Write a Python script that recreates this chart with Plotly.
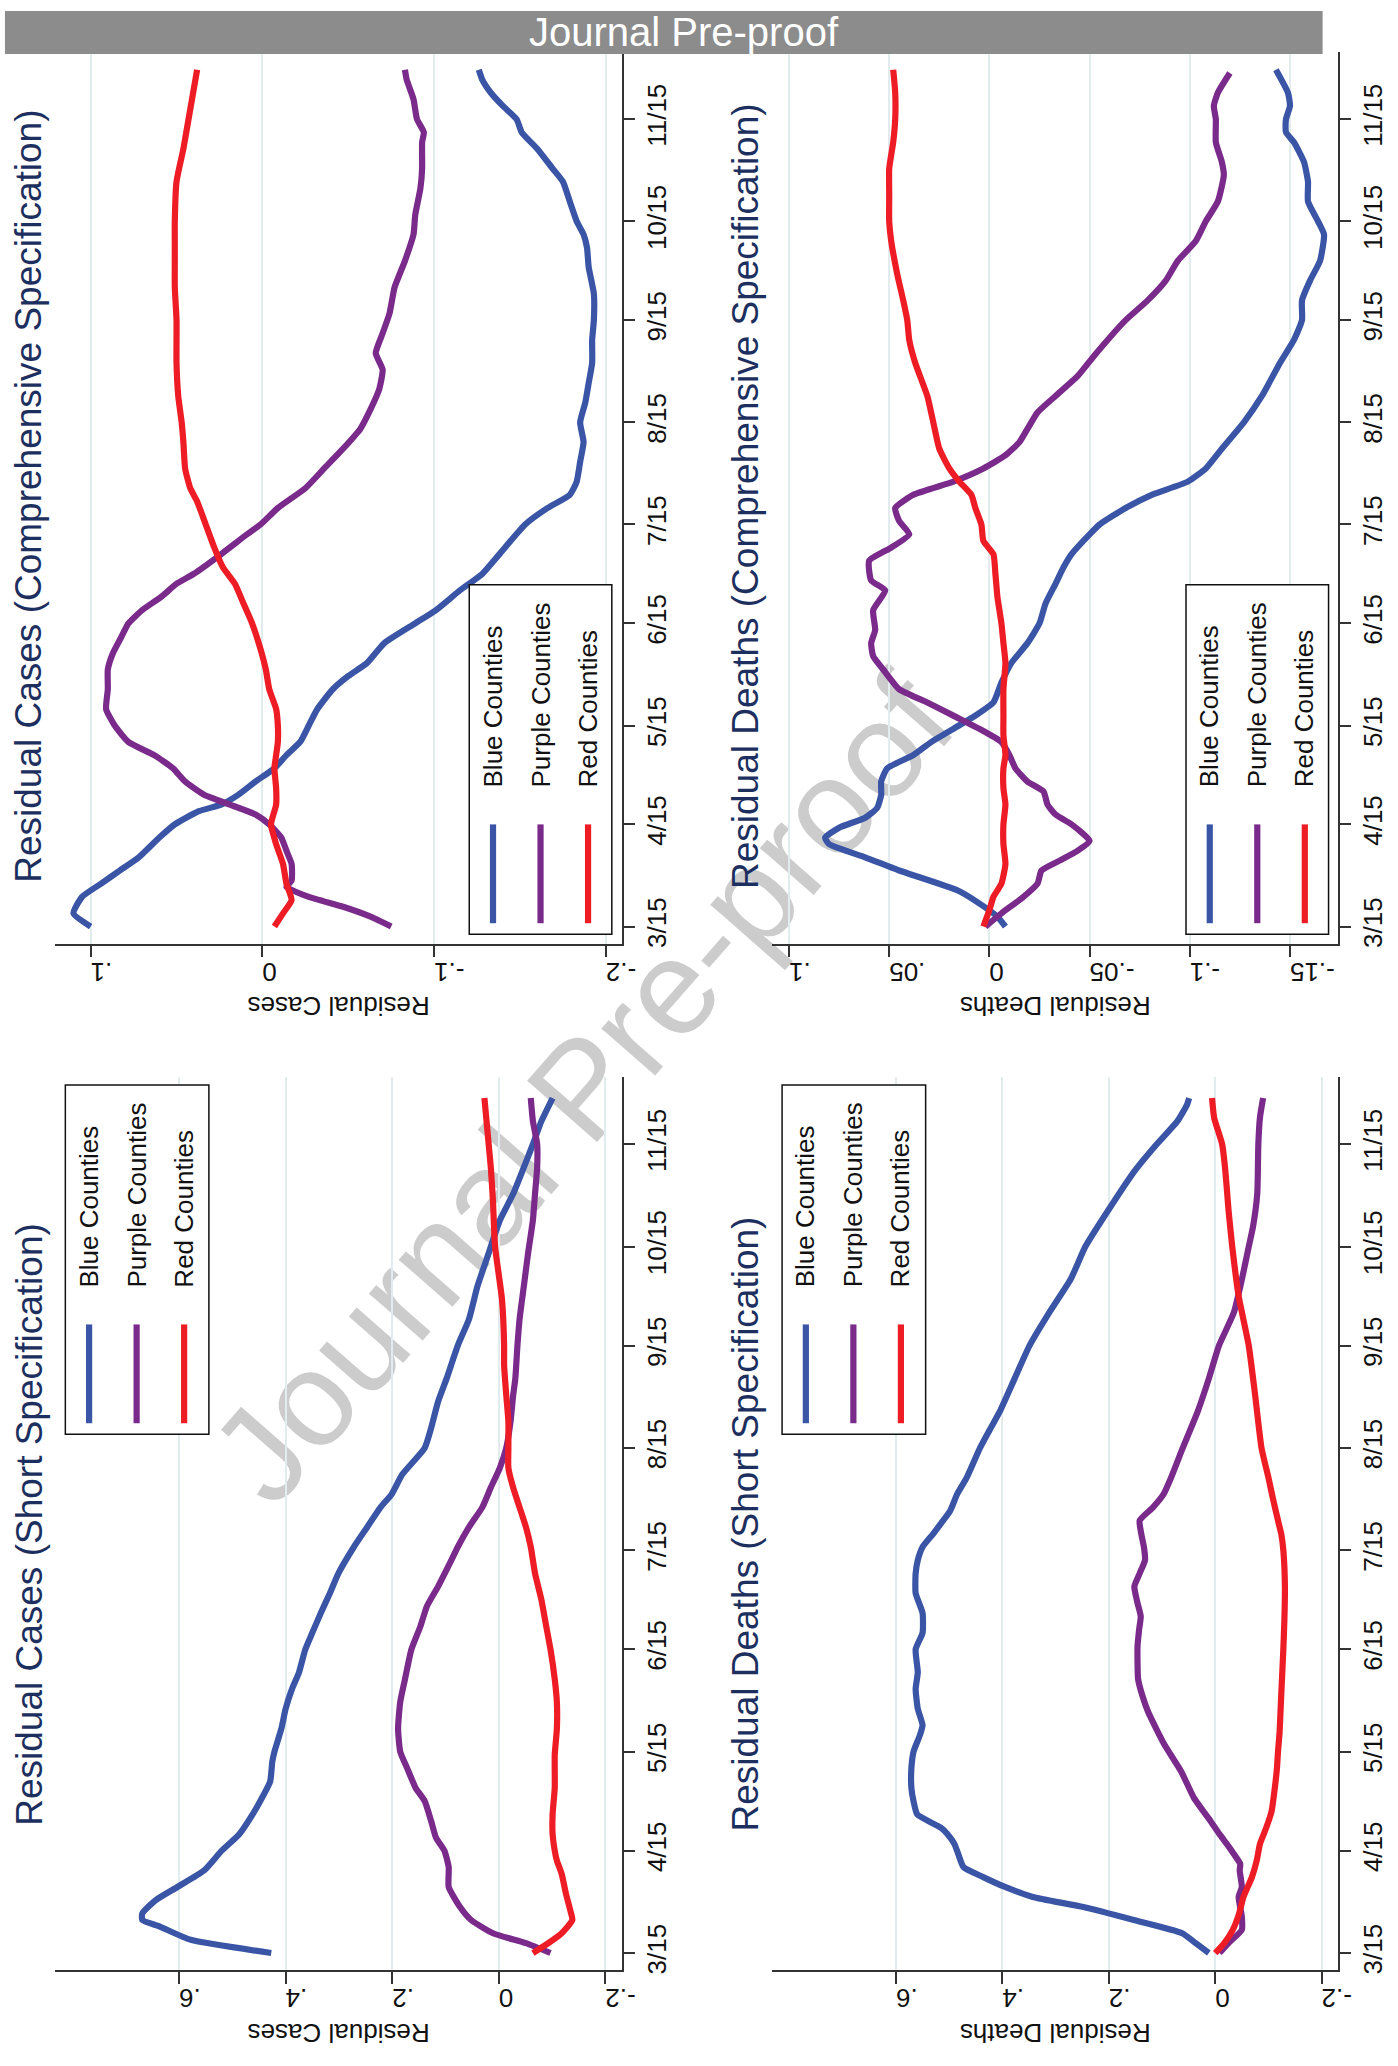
import plotly.graph_objects as go
import pandas as pd
import math

# ---------------- data (days after 2020-03-15, residual values) ----------------
BASE = pd.Timestamp("2020-03-15")

# Residual Cases (Comprehensive Specification)
cc_blue_days = [0,4,9,13,17,21,27,31,35,37,40,44,48,52,56,61,66,72,76,80,86,92,96,102,107,113,122,127,131,135,141,147,153,159,165,171,178,184,192,200,206,210,214,220,226,230,236,241,245,249,253,257,260]
cc_blue_vals = [.100,.110,.105,.094,.083,.072,.060,.051,.037,.024,.014,.004,-.007,-.014,-.022,-.027,-.032,-.041,-.050,-.061,-.071,-.089,-.101,-.115,-.128,-.138,-.153,-.166,-.179,-.183,-.185,-.187,-.185,-.188,-.190,-.192,-.192,-.193,-.193,-.190,-.189,-.187,-.183,-.179,-.175,-.169,-.160,-.151,-.148,-.140,-.133,-.128,-.126]
cc_purple_days = [0,3,6,9,12,14,19,23,27,31,34,37,40,44,48,52,56,61,66,72,78,83,88,92,96,100,104,107,113,119,122,127,133,139,145,151,157,163,169,174,180,186,194,202,210,216,224,230,238,241,245,251,257,260]
cc_purple_vals = [-.075,-.063,-.047,-.027,-.014,-.017,-.017,-.014,-.011,-.004,.004,.019,.034,.045,.052,.063,.078,.086,.091,.090,.090,.087,.082,.078,.070,.059,.050,.040,.024,.009,.001,-.009,-.025,-.036,-.047,-.057,-.063,-.068,-.070,-.066,-.070,-.074,-.077,-.083,-.088,-.089,-.092,-.093,-.093,-.094,-.090,-.088,-.084,-.083]
cc_red_days = [0,4,8,13,19,25,31,37,42,48,52,56,61,66,72,78,84,92,98,104,109,115,122,129,133,139,147,153,161,171,184,194,204,214,226,236,245,251,260]
cc_red_vals = [-.007,-.012,-.017,-.014,-.012,-.008,-.005,-.008,-.008,-.007,-.008,-.009,-.009,-.008,-.004,-.002,.001,.006,.011,.016,.023,.028,.033,.038,.042,.045,.046,.047,.049,.050,.050,.051,.051,.051,.050,.046,.043,.041,.038]

# Residual Deaths (Comprehensive Specification)
cd_blue_days = [0,3,7,11,17,21,25,27,30,33,36,40,44,48,52,56,60,64,68,74,80,86,92,98,104,109,113,119,122,127,131,135,139,145,153,161,171,178,184,190,196,202,210,214,220,226,232,238,241,245,249,253,260]
cd_blue_vals = [-.008,-.004,.005,.016,.045,.062,.080,.082,.075,.062,.056,.054,.054,.051,.038,.029,.018,.007,-.002,-.006,-.011,-.019,-.025,-.028,-.033,-.037,-.041,-.050,-.055,-.068,-.081,-.099,-.108,-.116,-.127,-.136,-.145,-.152,-.156,-.156,-.160,-.165,-.167,-.164,-.159,-.159,-.157,-.152,-.148,-.148,-.150,-.149,-.143]
cd_purple_days = [0,4,9,13,17,20,23,26,31,34,37,41,44,48,52,56,60,64,68,72,78,82,86,90,96,102,105,111,115,119,123,127,131,135,139,143,147,151,156,161,167,173,178,184,190,196,202,208,214,220,228,232,238,245,249,253,259]
cd_purple_vals = [.002,-.006,-.017,-.024,-.026,-.035,-.044,-.050,-.041,-.033,-.029,-.027,-.019,-.013,-.010,-.006,.005,.018,.031,.045,.053,.058,.059,.057,.058,.052,.059,.060,.049,.040,.045,.047,.038,.018,.003,-.008,-.015,-.019,-.024,-.033,-.044,-.052,-.059,-.068,-.079,-.088,-.094,-.103,-.108,-.114,-.117,-.116,-.113,-.113,-.112,-.114,-.120]
cd_red_days = [0,5,9,13,19,25,31,37,42,48,52,58,64,72,80,86,92,100,107,113,117,122,127,131,135,139,145,153,161,171,178,184,190,198,208,214,222,230,238,245,253,260]
cd_red_vals = [.003,.000,-.002,-.006,-.008,-.007,-.007,-.008,-.007,-.007,-.008,-.007,-.007,-.007,-.008,-.007,-.006,-.004,-.003,-.002,.003,.004,.007,.009,.015,.020,.025,.028,.031,.037,.040,.041,.043,.046,.049,.050,.050,.050,.048,.047,.047,.048]

# Residual Cases (Short Specification)
sc_blue_days = [0,4,8,10,12,16,20,25,31,36,42,48,52,58,61,68,74,80,85,92,97,103,109,115,123,129,135,139,145,153,159,167,174,184,192,202,212,214,222,230,238,245,252,259]
sc_blue_vals = [.427,.578,.636,.669,.669,.644,.603,.553,.520,.487,.462,.441,.429,.425,.421,.408,.400,.388,.375,.363,.350,.334,.317,.301,.272,.247,.222,.201,.181,.139,.127,.114,.098,.077,.056,.040,.019,.015,-.002,-.027,-.047,-.064,-.080,-.101]
sc_purple_days = [0,3,6,10,14,20,26,31,35,40,46,50,56,61,68,76,83,92,99,105,111,119,123,129,135,141,147,153,161,169,174,184,192,202,212,222,230,238,245,252,259]
sc_purple_vals = [-.097,-.051,.011,.052,.073,.094,.094,.102,.118,.127,.139,.156,.172,.185,.189,.185,.176,.164,.147,.135,.114,.089,.077,.056,.031,.015,-.002,-.014,-.022,-.027,-.031,-.035,-.039,-.047,-.055,-.064,-.068,-.072,-.072,-.064,-.060]
sc_red_days = [0,3,6,10,13,18,24,28,31,36,42,50,60,68,76,83,92,99,107,115,123,129,135,141,147,153,161,169,178,184,198,214,228,238,245,259]
sc_red_vals = [-.064,-.093,-.118,-.138,-.134,-.126,-.118,-.109,-.105,-.101,-.101,-.105,-.105,-.109,-.109,-.105,-.097,-.089,-.080,-.068,-.060,-.051,-.039,-.027,-.018,-.018,-.018,-.014,-.010,-.010,-.006,.007,.011,.015,.019,.027]

# Residual Deaths (Short Specification)
sd_blue_days = [0,3,6,10,14,17,20,23,26,30,33,36,38,42,46,50,56,61,66,69,74,80,85,92,97,103,109,115,119,123,127,130,134,139,144,153,159,164,174,184,194,204,214,225,237,245,252,257,259]
sd_blue_vals = [.012,.037,.062,.153,.250,.343,.395,.436,.473,.483,.490,.503,.516,.560,.567,.571,.571,.567,.555,.550,.559,.563,.559,.563,.550,.550,.563,.563,.559,.550,.530,.516,.498,.485,.467,.442,.422,.405,.377,.349,.312,.272,.244,.201,.151,.110,.071,.053,.049]
sd_purple_days = [0,3,7,11,17,20,25,27,30,33,36,40,47,55,63,68,73,78,83,88,93,98,102,106,111,115,119,123,127,131,135,139,144,153,164,174,184,194,204,214,220,230,245,253,259]
sd_purple_vals = [-.008,-.025,-.050,-.050,-.044,-.050,-.046,-.047,-.035,-.022,-.008,.009,.040,.064,.095,.111,.126,.137,.145,.146,.146,.143,.140,.146,.152,.142,.132,.134,.139,.142,.117,.097,.083,.061,.033,.012,-.007,-.035,-.050,-.063,-.071,-.079,-.081,-.084,-.090]
sd_red_days = [0,3,7,12,17,23,28,33,38,43,50,56,61,67,78,92,101,111,122,127,131,138,144,153,169,184,199,214,225,237,245,253,259]
sd_red_vals = [.000,-.017,-.033,-.045,-.053,-.069,-.078,-.084,-.096,-.106,-.112,-.116,-.118,-.121,-.124,-.128,-.130,-.131,-.128,-.124,-.118,-.108,-.100,-.087,-.075,-.063,-.044,-.032,-.025,-.019,-.013,.002,.006]

date_ticks = ["2020-03-15","2020-04-15","2020-05-15","2020-06-15","2020-07-15",
              "2020-08-15","2020-09-15","2020-10-15","2020-11-15"]
date_labels = ["3/15","4/15","5/15","6/15","7/15","8/15","9/15","10/15","11/15"]

cc_ticks = [0.1, 0, -0.1, -0.2];  cc_labels = [".1", "0", "-.1", "-.2"]
cd_ticks = [0.1, 0.05, 0, -0.05, -0.1, -0.15]; cd_labels = [".1", ".05", "0", "-.05", "-.1", "-.15"]
s_ticks = [0.6, 0.4, 0.2, 0, -0.2]; s_labels = [".6", ".4", ".2", "0", "-.2"]

series_names = ["Blue Counties", "Purple Counties", "Red Counties"]

# ---------------- styling ----------------
W, H = 1398, 2066
BLUE, PURPLE, RED = "#3a55a6", "#7a2a8a", "#ee1c25"
NAVY = "#1c2f5e"
GRID = "#e2ebee"
AXC = "#333333"
FONT = "Liberation Sans, Arial, sans-serif"
LW = 6.2

def px(x):
    return x / W

def py(y):
    return 1 - y / H

def to_dates(days):
    return [BASE + pd.Timedelta(days=d) for d in days]

date_range = [BASE + pd.Timedelta(days=-5.2), BASE + pd.Timedelta(days=265.4)]

panels = [
    dict(title="Residual Cases (Comprehensive Specification)", ytitle="Residual Cases",
         x0=56, x1=628.5, top=52, bot=945.5, vr=[0.1205, -0.2095],
         ticks=cc_ticks, labels=cc_labels, tx=28, ty=497,
         series=[(cc_blue_days, cc_blue_vals), (cc_purple_days, cc_purple_vals), (cc_red_days, cc_red_vals)],
         leg=(474, 586, 618, 936)),
    dict(title="Residual Deaths (Comprehensive Specification)", ytitle="Residual Deaths",
         x0=780, x1=1352, top=52, bot=945.5, vr=[0.1084, -0.1742],
         ticks=cd_ticks, labels=cd_labels, tx=752.5, ty=497,
         series=[(cd_blue_days, cd_blue_vals), (cd_purple_days, cd_purple_vals), (cd_red_days, cd_red_vals)],
         leg=(1198, 586, 1342, 936)),
    dict(title="Residual Cases (Short Specification)", ytitle="Residual Cases",
         x0=56, x1=628.5, top=1079, bot=1974, vr=[0.832, -0.2316],
         ticks=s_ticks, labels=s_labels, tx=29, ty=1527,
         series=[(sc_blue_days, sc_blue_vals), (sc_purple_days, sc_purple_vals), (sc_red_days, sc_red_vals)],
         leg=(66, 1087, 211, 1437)),
    dict(title="Residual Deaths (Short Specification)", ytitle="Residual Deaths",
         x0=780, x1=1352, top=1079, bot=1974, vr=[0.8326, -0.2316],
         ticks=s_ticks, labels=s_labels, tx=753, ty=1527,
         series=[(sd_blue_days, sd_blue_vals), (sd_purple_days, sd_purple_vals), (sd_red_days, sd_red_vals)],
         leg=(790, 1087, 935, 1437)),
]

colors = [BLUE, PURPLE, RED]

fig = go.Figure()
shapes = []
annotations = []

# watermark (below everything)
ang = math.radians(48.5)
cx, cy, L = 578, 1082, 300
shapes.append(dict(
    type="line", xref="paper", yref="paper", layer="below",
    x0=px(cx - L * math.cos(ang)), y0=py(cy + L * math.sin(ang)),
    x1=px(cx + L * math.cos(ang)), y1=py(cy - L * math.sin(ang)),
    line=dict(width=0, color="rgba(0,0,0,0)"),
    label=dict(text="Journal Pre-proof", textposition="middle", yanchor="middle",
               padding=0, font=dict(family=FONT, size=135, color="#cccccc")),
))

for i, p in enumerate(panels, start=1):
    xa = "x" if i == 1 else f"x{i}"
    ya = "y" if i == 1 else f"y{i}"
    for (days, vals), col, name in zip(p["series"], colors, series_names):
        fig.add_trace(go.Scatter(
            x=vals, y=to_dates(days), xaxis=xa, yaxis=ya, mode="lines", name=name,
            line=dict(color=col, width=LW, shape="spline", smoothing=0.5),
            showlegend=False, hoverinfo="skip"))
    xkey = "xaxis" if i == 1 else f"xaxis{i}"
    ykey = "yaxis" if i == 1 else f"yaxis{i}"
    fig.update_layout(**{
        xkey: dict(domain=[px(p["x0"]), px(p["x1"])], anchor=ya, range=p["vr"],
                   tickmode="array", tickvals=p["ticks"], ticktext=p["labels"],
                   tickangle=180, ticks="outside", ticklen=12, tickwidth=1.5, tickcolor=AXC,
                   showline=True, linecolor=AXC, linewidth=1.5, mirror=False,
                   showgrid=True, gridcolor=GRID, gridwidth=1.5, zeroline=False,
                   tickfont=dict(family=FONT, size=26, color="#111111"), fixedrange=True),
        ykey: dict(domain=[py(p["bot"]), py(p["top"])], anchor=xa, side="right",
                   type="date", range=date_range, tickmode="array",
                   tickvals=date_ticks, ticktext=date_labels, tickangle=-90,
                   ticks="outside", ticklen=11, tickwidth=1.5, tickcolor=AXC,
                   showline=True, linecolor=AXC, linewidth=1.5, showgrid=False,
                   zeroline=False, tickfont=dict(family=FONT, size=26, color="#111111"),
                   fixedrange=True),
    })
    # panel title
    annotations.append(dict(text=p["title"], xref="paper", yref="paper",
                            x=px(p["tx"]), y=py(p["ty"]), xanchor="center", yanchor="middle",
                            textangle=-90, showarrow=False,
                            font=dict(family=FONT, size=37, color=NAVY)))
    # value-axis title (upside down)
    annotations.append(dict(text=p["ytitle"], xref="paper", yref="paper",
                            x=px((p["x0"] + p["x1"]) / 2), y=py(p["bot"] + 63),
                            xanchor="center", yanchor="middle", textangle=180, showarrow=False,
                            font=dict(family=FONT, size=26, color="#111111")))
    # legend
    lx0, ly0, lx1, ly1 = p["leg"]
    shapes.append(dict(type="rect", xref="paper", yref="paper", layer="above",
                       x0=px(lx0), x1=px(lx1), y0=py(ly1), y1=py(ly0),
                       fillcolor="white", line=dict(color="#111111", width=1.5)))
    for k, (col, name) in enumerate(zip(colors, series_names)):
        cxl = lx0 + 24 + 48 * k
        shapes.append(dict(type="line", xref="paper", yref="paper", layer="above",
                           x0=px(cxl), x1=px(cxl), y0=py(ly1 - 11), y1=py(ly1 - 110),
                           line=dict(color=col, width=LW)))
        annotations.append(dict(text=name, xref="paper", yref="paper",
                                x=px(cxl), y=py(ly1 - 145), xanchor="center", yanchor="bottom",
                                textangle=-90, showarrow=False,
                                font=dict(family=FONT, size=26, color="#111111")))

# Journal Pre-proof banner
shapes.append(dict(type="rect", xref="paper", yref="paper", layer="above",
                   x0=px(5), x1=px(1336), y0=py(54), y1=py(11),
                   fillcolor="#8c8c8c", line=dict(width=0)))
annotations.append(dict(text="Journal Pre-proof", xref="paper", yref="paper",
                        x=px(690.5), y=py(32), xanchor="center", yanchor="middle",
                        showarrow=False, font=dict(family=FONT, size=40, color="white")))

fig.update_layout(
    width=W, height=H, margin=dict(l=0, r=0, t=0, b=0, pad=0),
    paper_bgcolor="white", plot_bgcolor="rgba(0,0,0,0)",
    showlegend=False, shapes=shapes, annotations=annotations,
)

fig.write_html("out.html", config={"displayModeBar": False},
               post_script="document.body.style.margin='0';")
